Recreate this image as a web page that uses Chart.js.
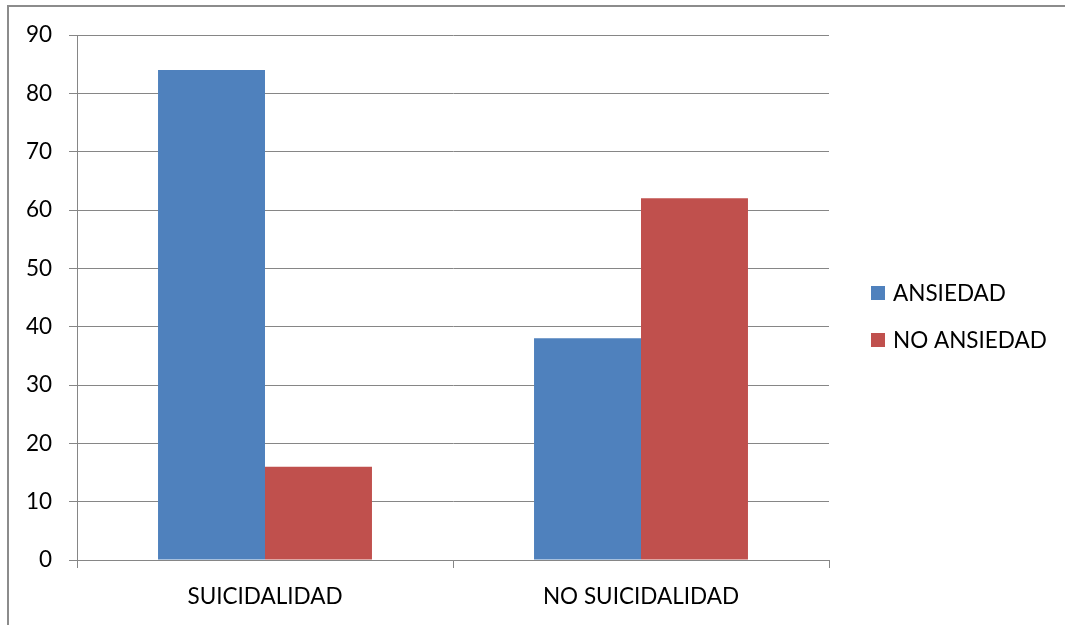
<!DOCTYPE html>
<html>
<head>
<meta charset="utf-8">
<script src="https://cdn.jsdelivr.net/npm/chart.js@4/dist/chart.umd.min.js"></script>
<style>
  html, body { margin: 0; padding: 0; background: #fff; }
  #wrap { position: relative; width: 1065px; height: 625px; overflow: hidden; }
  #frame { position: absolute; left: 7px; top: 5px; width: 1100px; height: 700px;
           border: 2px solid #8c8c8c; box-sizing: border-box; }
  canvas { position: absolute; left: 0; top: 0; }
</style>
</head>
<body>
<div id="wrap">
  <div id="frame"></div>
  <canvas id="c" width="1065" height="625"></canvas>
</div>
<script>
// Data
const categories = ['SUICIDALIDAD', 'NO SUICIDALIDAD'];
const seriesNames = ['ANSIEDAD', 'NO ANSIEDAD'];
const ansiedad = [84, 38];
const noAnsiedad = [16, 62];
const yTickValues = [0, 10, 20, 30, 40, 50, 60, 70, 80, 90];

const FONT = 'Lato';
const FONT_SIZE = 22.5;
const GRID = '#868686';

// Legend drawn to the right of the plot, one row per dataset
const sideLegend = {
  id: 'sideLegend',
  afterDraw(chart) {
    const ctx = chart.ctx;
    const x0 = chart.chartArea.right + 42;
    ctx.save();
    ctx.font = FONT_SIZE + 'px ' + FONT;
    ctx.textBaseline = 'middle';
    ctx.textAlign = 'left';
    chart.data.datasets.forEach((ds, i) => {
      const y = 293 + i * 47;
      ctx.fillStyle = ds.backgroundColor;
      ctx.fillRect(x0, y - 7, 14, 14);
      ctx.fillStyle = '#000';
      ctx.fillText(ds.label, x0 + 22, y + 1);
    });
    ctx.restore();
  }
};

function draw() {
  new Chart(document.getElementById('c'), {
    type: 'bar',
    data: {
      labels: categories,
      datasets: [
        { label: seriesNames[0], data: ansiedad, backgroundColor: '#4F81BD', borderWidth: 0 },
        { label: seriesNames[1], data: noAnsiedad, backgroundColor: '#C0504D', borderWidth: 0 }
      ]
    },
    options: {
      responsive: false,
      devicePixelRatio: 1,
      animation: false,
      layout: { padding: { top: 35, right: 236, left: 0, bottom: 0 } },
      datasets: { bar: { barPercentage: 1, categoryPercentage: 0.569 } },
      plugins: { legend: { display: false }, tooltip: { enabled: false } },
      scales: {
        x: {
          offset: true,
          grid: { offset: true, drawOnChartArea: false, drawTicks: true, tickLength: 8, color: GRID, lineWidth: 1 },
          border: { display: true, color: GRID, width: 1 },
          ticks: { color: '#000', font: { family: FONT, size: FONT_SIZE }, padding: 15, maxRotation: 0 },
          afterFit(scale) { scale.height = 65; }
        },
        y: {
          min: 0,
          max: 90,
          afterBuildTicks(scale) { scale.ticks = yTickValues.map(v => ({ value: v })); },
          grid: { color: GRID, lineWidth: 1, tickLength: 8, drawTicks: true },
          border: { display: true, color: GRID, width: 1 },
          ticks: { color: '#000', font: { family: FONT, size: FONT_SIZE }, padding: 17 },
          afterFit(scale) { scale.width = 77; }
        }
      }
    },
    plugins: [sideLegend]
  });
}

if (document.fonts && document.fonts.load) {
  document.fonts.load(FONT_SIZE + 'px ' + FONT).then(draw, draw);
} else {
  draw();
}
</script>
</body>
</html>
